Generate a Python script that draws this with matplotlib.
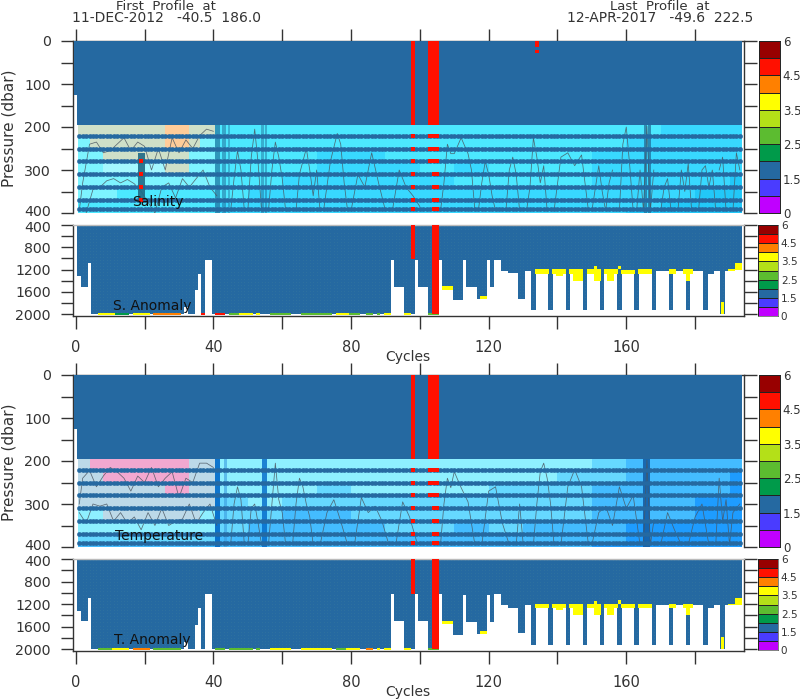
import numpy as np
import matplotlib
matplotlib.use("Agg")
import matplotlib.pyplot as plt
from matplotlib.colors import ListedColormap
from matplotlib.transforms import ScaledTranslation

FLAG_BLUE = '#2569a1'
BAR_COLORS = ['#c000ff', '#4a3cff', '#2569a1', '#009a4a', '#5cbc30',
              '#b4e018', '#ffff00', '#ff8000', '#ff1000', '#980000']
BAR_LABELS = ['0', '1.5', '2.5', '3.5', '4.5', '6']

# deepest pressure reached by each run of cycles: (first, last, depth)
depth_runs = [(1,1,1315),(2,3,1505),(4,4,1090),(5,31,2000),(32,32,1870),(33,34,2000),
    (35,35,1570),(36,36,1270),(37,37,2000),(38,39,1020),(40,91,2000),(92,92,1020),
    (93,95,1505),(96,98,2000),(99,99,1020),(100,102,1505),(103,105,2000),(106,106,1020),
    (107,109,1550),(110,112,1745),(113,113,1030),(114,116,1510),(117,119,1725),(120,120,1030),
    (121,121,1510),(122,123,1020),(124,125,1220),(126,128,1265),(129,130,1720),(131,132,1220),
    (133,133,1925),(134,137,1220),(138,138,1925),(139,142,1220),(143,143,1925),(144,147,1220),
    (148,148,1925),(149,152,1220),(153,153,1925),(154,157,1220),(158,158,1925),(159,162,1220),
    (163,163,1925),(164,167,1220),(168,168,1925),(169,172,1220),(173,173,1925),(174,177,1220),
    (178,178,1925),(179,182,1220),(183,183,1925),(184,185,1270),(186,187,1220),(188,188,1990),
    (189,190,1220),(191,191,1210),(192,193,1200)]

# yellow flag patches: (first, last, top, bottom)
yellow_patches = [(134,137,1190,1270),(139,139,1190,1270),(140,141,1190,1310),(142,142,1190,1270),
    (144,144,1190,1270),(145,147,1190,1400),(149,150,1190,1270),(151,151,1140,1400),(152,152,1190,1400),
    (154,154,1190,1270),(155,156,1190,1400),(157,157,1190,1270),(158,158,1130,1190),(159,162,1200,1270),
    (164,167,1190,1270),(173,174,1190,1270),(177,177,1190,1270),(178,178,1190,1400),(179,179,1190,1270),
    (107,109,1500,1560),(118,119,1680,1730),(188,188,1780,1990),(190,191,1190,1220),(192,193,1090,1210)]

# thin flag ribbon on the 2000 dbar level: (first, last, colour index)
s_ribbon = [(7,11,6),(12,15,3),(17,21,6),(23,30,7),(37,37,8),(41,43,8),(45,47,4),(48,51,6),(53,53,6),
    (57,62,4),(66,74,4),(76,79,6),(80,82,4),(85,86,4),(88,88,4),(90,91,6),(96,97,6),(103,105,4)]
t_ribbon = [(7,10,4),(11,15,6),(17,21,7),(23,30,4),(41,43,4),(45,51,4),(53,53,4),(57,62,6),
    (66,74,6),(76,78,4),(79,82,6),(85,86,7),(88,88,6),(90,91,6),(96,97,6),(103,105,4)]

# Field colours and classes between the sampled levels
S_PALETTE = ['#ffcc99', '#cfe0c8', '#a5f8ff', '#7df4ff', '#4ce8ff', '#38d8ff', '#22c8f8']
T_PALETTE = ['#f2a8d0', '#bcd9e8', '#8ef0ff', '#66d8ff', '#44bcff', '#1e9cff', '#0a80e0']
col_edges = [0.5,4,8,12,17,21,26,33,36,40.5,50,60,70,80,90,100,110,120,130,140,150,160,170,180,190,193.5]
row_edges = [195,220,250,280,310,340,370,390,400]
S_GRID = [[1,1,1,1,1,1,0,1,1,4,4,4,4,4,4,4,4,4,4,4,4,4,5,5,5],
          [3,1,1,1,1,1,0,1,3,4,4,4,4,4,4,4,4,4,4,4,4,5,5,5,5],
          [3,3,1,1,1,1,1,3,3,4,4,4,5,5,4,4,4,4,4,4,5,5,5,5,5],
          [3,3,2,2,2,2,1,3,3,4,4,4,5,5,5,4,5,4,4,4,5,5,5,5,5],
          [3,3,3,3,3,3,3,3,3,4,4,5,5,5,5,5,4,4,4,4,5,5,5,5,6],
          [3,3,3,4,4,4,4,4,4,4,5,5,5,5,5,5,5,5,5,5,5,5,5,6,6],
          [4,4,4,4,4,4,4,4,4,5,5,5,5,5,5,5,5,5,5,5,5,5,6,6,6],
          [4,4,4,4,4,4,4,4,4,5,5,5,5,5,5,5,5,5,5,5,5,6,6,6,6]]
T_GRID = [[1,0,0,0,0,0,0,1,1,2,2,2,2,2,2,2,2,2,2,2,3,4,4,4,4],
          [1,1,0,0,0,0,0,1,1,2,2,2,2,2,2,2,2,2,2,3,3,4,4,4,5],
          [1,1,1,1,1,1,0,1,1,2,2,2,3,2,2,2,2,3,3,3,4,4,4,4,5],
          [1,1,1,1,1,1,1,1,1,3,2,3,3,3,3,3,3,3,3,3,4,4,4,5,5],
          [2,2,1,1,1,1,1,1,2,3,3,4,4,3,3,3,3,3,3,3,4,4,4,5,5],
          [2,2,2,2,2,2,2,2,2,3,4,4,4,4,3,3,4,3,4,4,4,5,5,5,5],
          [3,3,3,3,3,3,3,3,3,4,4,4,4,4,4,4,4,4,4,4,4,5,5,5,5],
          [4,4,4,4,4,4,4,4,4,4,4,4,4,4,4,4,4,4,4,4,5,5,5,5,5]]

sampled_levels = [220, 250, 280, 310, 340, 370, 390]
last_cycle = 193
first_profile_depth = 125
top_block_depth = 195
red_full = [98, 103, 104, 105]
red_lower = [98, 104, 105]
red_lower_depth = [1015, 2000, 2000]

# Contour traces; nan separates traces
N = float('nan')
sc_x = [1,2,4,6,8,10,12,14,16,18,20,22,24,26,28,30,32,34,36,38,40,N,
        3,5,7,9,11,13,15,17,19,21,23,25,27,29,31,33,35,37,39,41,N,
        45,46,47,48,49,N,50,51,52,53,54,N,56,57,58,59,60,61,62,N,
        64,65,66,67,68,69,70,71,N,72,74,76,77,78,79,N,80,82,84,86,88,90,N,92,94,96,98,100,N,
        106,107,108,109,110,112,114,115,116,N,117,118,119,120,121,122,N,
        125,126,127,128,129,N,131,132,133,134,135,136,137,N,139,141,143,145,147,149,N,
        150,152,153,154,155,156,N,158,159,160,161,162,N,163,164,165,166,167,168,N,
        170,171,172,173,N,175,176,177,178,179,N,181,182,183,184,185,186,N,187,188,189,N,191,192,193]
sc_y = [395,330,240,235,260,255,240,225,255,235,245,300,250,300,225,260,230,250,220,205,210,N,
        400,345,340,325,320,330,322,332,350,375,400,340,330,365,320,340,320,300,340,360,N,
        395,320,255,300,395,N,395,270,205,285,395,N,395,300,235,270,320,395,395,N,
        395,310,280,250,300,360,300,395,N,395,280,215,240,330,395,N,395,310,340,260,330,395,N,395,300,340,360,385,N,
        395,330,240,262,262,225,262,300,395,N,395,330,280,310,360,395,N,
        395,300,270,310,395,N,395,340,225,270,330,290,395,N,395,270,260,290,265,395,N,
        395,290,350,395,330,300,N,395,240,200,290,395,N,395,300,395,198,395,300,N,
        395,340,320,395,N,395,300,350,285,395,N,395,300,290,340,300,395,N,300,270,395,N,395,260,300]
tc_x = [1,2,4,6,8,10,12,14,16,18,20,22,24,26,28,30,32,34,36,38,40,N,
        1,3,5,7,9,11,13,15,17,19,21,23,25,27,29,31,33,35,37,39,41,N,
        45,46,47,48,49,N,50,51,52,53,54,N,56,57,58,59,60,61,N,
        63,64,65,66,67,68,69,N,71,73,75,77,79,N,81,83,85,87,89,91,N,93,95,97,99,N,
        106,107,108,109,110,112,114,116,N,118,120,122,124,126,N,
        128,129,130,131,N,133,134,135,136,137,138,139,N,141,143,145,147,149,N,
        150,152,154,156,158,160,162,164,N,165,166,167,168,N,170,172,174,176,N,178,180,182,184,N,186,187,188,189,190,191,193]
tc_y = [300,240,222,260,235,215,225,240,270,235,250,215,260,240,225,285,240,250,205,205,215,N,
        320,345,300,305,300,340,320,345,330,360,320,350,310,350,340,335,300,345,320,300,350,N,
        395,300,260,290,395,N,395,310,300,345,395,N,395,300,205,290,320,395,N,
        395,300,240,260,300,330,395,N,395,320,290,340,395,N,395,285,320,305,340,395,N,395,295,330,385,N,
        395,300,240,262,225,262,295,395,N,395,270,260,345,395,N,
        395,300,390,395,N,395,300,225,205,240,300,395,N,395,260,220,260,395,N,
        395,320,305,350,260,310,280,395,N,395,198,395,340,N,395,320,360,395,N,395,330,300,395,N,395,240,340,290,395,320,300]
s_contours = (sc_x, sc_y)
t_contours = (tc_x, tc_y)
s_stripes = [(40.5,41.9,'#1f6a96',0.65),(42.6,43.6,'#1f6a96',0.5),(44.2,44.9,'#1f6a96',0.4),(53.8,54.6,'#1f6a96',0.45),(55,55.7,'#1f6a96',0.45),(165.2,165.9,'#1f6a96',0.7),(166.4,167.1,'#1f6a96',0.7)]
t_stripes = [(40.5,41.8,'#0068c8',0.9),(43,44,'#3a9ce0',0.6),(54,55.5,'#0068c8',0.8),(165,167,'#145fa8',0.9)]

W, H = 800.0, 700.0
X0, X1 = 72.8, 744.3
def axes_at(top, bottom):
    return fig.add_axes([X0/W, 1-bottom/H, (X1-X0)/W, (bottom-top)/H])

fig = plt.figure(figsize=(8, 7), dpi=100)
plt.rcParams['font.family'] = 'DejaVu Sans'
INK = '#333333'

def style(ax, ylim, majors, minors, bottom):
    ax.set_xlim(-0.87, 194.3)
    ax.set_ylim(*ylim)
    ax.set_xticks(np.arange(0, 181, 20))
    ax.set_xticklabels([str(v) if v % 40 == 0 else '' for v in range(0, 181, 20)] if bottom else [])
    ax.set_yticks(minors)
    ax.set_yticklabels([str(v) if v in majors else '' for v in minors])
    ax.tick_params(axis='y', left=True, right=True, length=9, width=1, color=INK, labelcolor=INK, labelsize=10.2, pad=7)
    ax.tick_params(axis='x', top=not bottom, bottom=bottom, length=9, width=1, color=INK, labelcolor=INK, labelsize=10.5, pad=8)
    for s in ax.spines.values():
        s.set_color(INK)
        s.set_linewidth(1)
    # the two "400" labels where panels meet sit a little apart
    edge = ax.get_yticklabels()[-1 if not bottom else 0]
    shift = (-2.0 if bottom else 2.0) / 100
    edge.set_transform(edge.get_transform() + ScaledTranslation(0, shift, fig.dpi_scale_trans))

def upper(ax, grid, palette, contours, stripes):
    ax.pcolormesh(col_edges, row_edges, np.array(grid), cmap=ListedColormap(palette),
                  vmin=-0.5, vmax=len(palette)-0.5, zorder=1)
    for x0, x1, c, a in stripes:
        ax.fill_betweenx([195, 400], x0, x1, color=c, alpha=a, lw=0, zorder=2)
    ax.plot(contours[0], contours[1], color='#4a5560', lw=0.55, alpha=0.85, zorder=3)
    cyc = np.arange(1, last_cycle+1)
    for lev in sampled_levels:
        ax.plot(cyc, np.full(cyc.size, lev), 'o', color=FLAG_BLUE, ms=3.3, mew=0, zorder=4)
        ax.plot([1, last_cycle], [lev, lev], color=FLAG_BLUE, lw=2.5, zorder=4)
    ax.bar(cyc, top_block_depth, width=1.02, color=FLAG_BLUE, zorder=5)
    ax.bar([0], first_profile_depth, width=1.0, color=FLAG_BLUE, zorder=5)
    ax.bar(red_full, top_block_depth, width=1.02, color='#ff1000', zorder=6)
    for lev in sampled_levels:
        rc = [98,103,104,105] if lev <= 280 else [98,104,105]
        ax.plot(rc, [lev]*len(rc), 's', color='#ff1000', ms=3.4, mew=0, zorder=6)

def lower(ax, ribbon):
    dx, dy = [], []
    for a, b, d in depth_runs:
        cyc = np.arange(a, b+1)
        wide = a == b and d > 1800
        ax.bar(cyc, d-400, bottom=400, width=1.27 if wide else 1.02, color=FLAG_BLUE, zorder=2)
        lv = np.arange(425, d-20, 55)
        for c in cyc:
            dx.extend([c]*len(lv))
            dy.extend(lv)
    ax.plot(dx, dy, '.', color='#4f8f9a', ms=0.9, mew=0, alpha=0.35, zorder=2.5)
    for a, b, t, d in yellow_patches:
        ax.bar(np.arange(a, b+1), d-t, bottom=t, width=1.02, color='#ffff00', zorder=3)
    for a, b, ci in ribbon:
        ax.bar(np.arange(a, b+1), 40, bottom=1975, width=1.02, color=BAR_COLORS[ci], zorder=3)
    ax.bar(red_lower, np.array(red_lower_depth)-400, bottom=400, width=1.02, color='#ff1000', zorder=4)

def colorbar(x0, x1, top, bottom, size, lw):
    cax = fig.add_axes([x0/W, 1-bottom/H, (x1-x0)/W, (bottom-top)/H])
    vals = np.arange(len(BAR_COLORS)).reshape(-1, 1)
    cax.pcolormesh([0, 1], np.arange(len(BAR_COLORS)+1), vals, cmap=ListedColormap(BAR_COLORS),
                   edgecolors='#222222', linewidth=lw)
    cax.set_xticks([])
    cax.yaxis.tick_right()
    cax.set_yticks([0, 2, 4, 6, 8, 10])
    cax.set_yticklabels(BAR_LABELS)
    cax.tick_params(axis='y', length=0, pad=2, labelsize=size, labelcolor=INK)
    for s in cax.spines.values():
        s.set_color('#222222')
        s.set_linewidth(lw)

ax1 = axes_at(41, 213)
upper(ax1, S_GRID, S_PALETTE, s_contours, s_stripes)
ax1.bar([19], 110, bottom=260, width=2.0, color='#1f6a86', alpha=0.9, zorder=5)
ax1.plot([19]*4, [280, 310, 340, 370], 's', color='#ff1000', ms=3.4, mew=0, zorder=6)
ax1.bar([134, 134], [15, 7], bottom=[0, 20], width=1.0, color='#ff1000', zorder=6)
style(ax1, (400, 0), [0, 100, 200, 300, 400], list(range(0, 401, 50)), False)
ax1.spines['bottom'].set_visible(False)

ax2 = axes_at(225, 316)
lower(ax2, s_ribbon)
style(ax2, (2032, 400), [400, 800, 1200, 1600, 2000], list(range(400, 2001, 200)), True)
ax2.spines['top'].set_color('#bbbbbb')

ax3 = axes_at(375, 547)
upper(ax3, T_GRID, T_PALETTE, t_contours, t_stripes)
style(ax3, (400, 0), [0, 100, 200, 300, 400], list(range(0, 401, 50)), False)
ax3.spines['bottom'].set_visible(False)

ax4 = axes_at(559, 651)
lower(ax4, t_ribbon)
style(ax4, (2032, 400), [400, 800, 1200, 1600, 2000], list(range(400, 2001, 200)), True)
ax4.spines['top'].set_color('#bbbbbb')

colorbar(759, 780, 41, 213, 8.5, 0.7)
colorbar(758, 778, 225, 316, 7.5, 0.4)
colorbar(759, 780, 375, 547, 8.5, 0.7)
colorbar(758, 778, 559, 650, 7.5, 0.4)

def label(x, y, s, size=10.5, color=INK, **kw):
    fig.text(x/W, 1-y/H, s, fontsize=size, color=color, ha='center', va='center', zorder=10, **kw)

label(166, 6, 'First  Profile  at', 9.5)
label(166, 18, '11-DEC-2012   -40.5  186.0', 10)
label(660, 6, 'Last  Profile  at', 9.5)
label(660, 18, '12-APR-2017   -49.6  222.5', 10)
label(9, 128, 'Pressure (dbar)', 11, rotation=90)
label(9, 462, 'Pressure (dbar)', 11, rotation=90)
label(408, 357, 'Cycles', 10)
label(408, 692, 'Cycles', 10)
for x, y, s in [(158, 202, 'Salinity'), (152, 306, 'S. Anomaly'), (159, 536, 'Temperature'), (152, 640, 'T. Anomaly')]:
    label(x, y, s, 10, color='#111111')

fig.savefig('out.png', dpi=100)
